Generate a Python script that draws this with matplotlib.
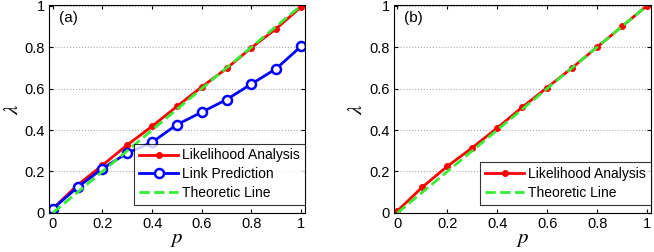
import numpy as np
import matplotlib.pyplot as plt

plt.rcParams['font.family'] = ['Liberation Sans', 'DejaVu Sans']
plt.rcParams['mathtext.fontset'] = 'stix'

p = [0, 0.1, 0.2, 0.3, 0.4, 0.5, 0.6, 0.7, 0.8, 0.9, 1.0]
la_a = [0.02, 0.135, 0.23, 0.328, 0.418, 0.514, 0.608, 0.697, 0.797, 0.889, 0.994]
lp_a = [0.02, 0.124, 0.214, 0.289, 0.341, 0.426, 0.486, 0.547, 0.622, 0.696, 0.804]
la_b = [0.01, 0.125, 0.225, 0.315, 0.41, 0.51, 0.605, 0.70, 0.80, 0.90, 1.0]
theo = [0, 1]

fig = plt.figure(figsize=(6.54, 2.52), dpi=100)
ax1 = fig.add_axes([0.075, 0.155, 0.391, 0.825])
ax2 = fig.add_axes([0.602, 0.155, 0.393, 0.825])

def estilo(ax, etiqueta):
    ax.set_xlim(-0.015, 1.015)
    ax.set_ylim(0, 1.003)
    ax.set_xticks([0, 0.2, 0.4, 0.6, 0.8, 1])
    ax.set_xticklabels(['0', '0.2', '0.4', '0.6', '0.8', '1'])
    ax.set_yticks([0, 0.2, 0.4, 0.6, 0.8, 1])
    ax.set_yticklabels(['0', '0.2', '0.4', '0.6', '0.8', '1'])
    ax.tick_params(direction='in', top=True, right=True, labelsize=10.5, length=3, pad=3)
    ax.yaxis.grid(True, linestyle=':', color='#aaaaaa', linewidth=0.8)
    ax.set_axisbelow(True)
    ax.set_xlabel('$p$', fontsize=15, labelpad=-1)
    ax.set_ylabel(r'$\lambda$', fontsize=15, labelpad=2)
    ax.text(0.04, 0.94, etiqueta, transform=ax.transAxes, fontsize=11, va='center')
    for s in ax.spines.values():
        s.set_linewidth(0.8)

def leyenda(ax):
    leg = ax.legend(loc='lower right', bbox_to_anchor=(1.0, 0.038), fontsize=10,
                    fancybox=False, edgecolor='black', borderaxespad=0,
                    handlelength=2.8, handletextpad=0.3, labelspacing=0.35,
                    borderpad=0.35)
    leg.get_frame().set_linewidth(0.8)

ax1.plot(p, la_a, '-', color='red', lw=2, marker='o', ms=4, label='Likelihood Analysis')
ax1.plot(p, lp_a, '-', color='blue', lw=2, marker='o', ms=6.5, mfc='white', mew=1.8,
         label='Link Prediction')
ax1.plot(theo, theo, '--', color='#33ee33', lw=2, label='Theoretic Line')
estilo(ax1, '(a)')
leyenda(ax1)

ax2.plot(p, la_b, '-', color='red', lw=2, marker='o', ms=4, label='Likelihood Analysis')
ax2.plot(theo, theo, '--', color='#33ee33', lw=2, label='Theoretic Line')
estilo(ax2, '(b)')
leyenda(ax2)

plt.savefig('out.png', dpi=100)
